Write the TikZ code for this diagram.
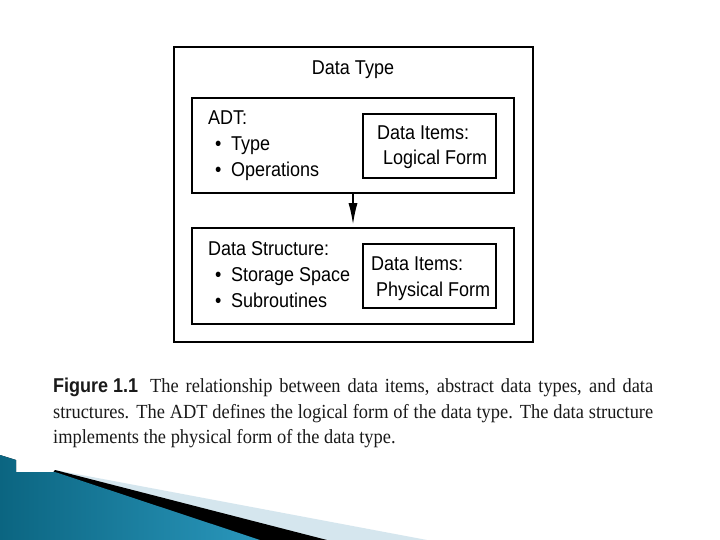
\documentclass[tikz,border=0pt]{standalone}
\usepackage{fontspec}
\setmainfont{Liberation Serif}[FakeStretch=0.92]
\newfontfamily\diagfont{Liberation Sans}[FakeStretch=0.9]
\newfontfamily\capsans{Liberation Sans}[FakeStretch=0.9]
\usetikzlibrary{arrows.meta}
\definecolor{bluedark}{HTML}{0B6581}
\definecolor{bluemid}{HTML}{3EAED3}
\definecolor{blueright}{HTML}{2A97BC}
\definecolor{lightband}{HTML}{D5E6EE}
\definecolor{captext}{HTML}{1A1A1A}
\begin{document}
\begin{tikzpicture}[x=1pt,y=-1pt,
  frame/.style={draw=black,line width=1.7pt,inner sep=0pt},
  dtext/.style={anchor=base west,inner sep=0pt,font=\diagfont\fontsize{20}{24}\selectfont,text=black},
  ctext/.style={anchor=base west,inner sep=0pt,font=\fontsize{20}{24}\selectfont,text=captext}]
\useasboundingbox (0,0) rectangle (720,540);
\fill[white] (0,0) rectangle (720,540);
% decoration bottom-left
\fill[lightband] (55,470) -- (427,540) -- (0,540) -- cycle;
\fill[black] (55,470) -- (327,540) -- (0,540) -- cycle;
\fill[left color=bluedark, middle color=bluemid, right color=blueright]
  (0,455) -- (16,460) -- (16,472) -- (55,472) -- (260,540) -- (0,540) -- cycle;
% boxes
\node[frame,minimum width=359pt,minimum height=295pt] (outer) at (353.5,194.5) {};
\node[frame,minimum width=322pt,minimum height=95pt] (adt) at (353,145.5) {};
\node[frame,minimum width=133pt,minimum height=64pt] (logical) at (429.5,146) {};
\node[frame,minimum width=322pt,minimum height=96pt] (ds) at (353,276) {};
\node[frame,minimum width=133pt,minimum height=64pt] (physical) at (429.5,276) {};
\draw[line width=1.2pt,-{Latex[length=21pt,width=9pt]},shorten >=3pt] (adt.south) -- (ds.north);
% texts
\node[dtext,anchor=base] (title) at (353,75) {Data Type};
\node[dtext] (adtlabel) at (208,125) {ADT:};
\node[dtext] (b1) at (215,151) {•};
\node[dtext] (t1) at (231,151) {Type};
\node[dtext] (b2) at (215,177) {•};
\node[dtext] (t2) at (231,177) {Operations};
\node[dtext] (li1) at (377,140) {Data Items:};
\node[dtext] (li2) at (383,165) {Logical Form};
\node[dtext] (dslabel) at (208,255) {Data Structure:};
\node[dtext] (b3) at (215,281) {•};
\node[dtext] (t3) at (231,281) {Storage Space};
\node[dtext] (b4) at (215,307) {•};
\node[dtext] (t4) at (231,307) {Subroutines};
\node[dtext] (pi1) at (371,270) {Data Items:};
\node[dtext] (pi2) at (376,296) {Physical Form};
% caption
\node[ctext] (cap1) at (53,392) {\makebox[600pt][s]{\mbox{\capsans\bfseries\fontsize{20}{24}\selectfont Figure 1.1}\hspace{12pt}The relationship between data items, abstract data types, and data}};
\node[ctext] (cap2) at (53,418) {\makebox[600pt][s]{structures. The ADT defines the logical form of the data type. The data structure}};
\node[ctext] (cap3) at (53,443) {implements the physical form of the data type.};
\end{tikzpicture}
\end{document}
